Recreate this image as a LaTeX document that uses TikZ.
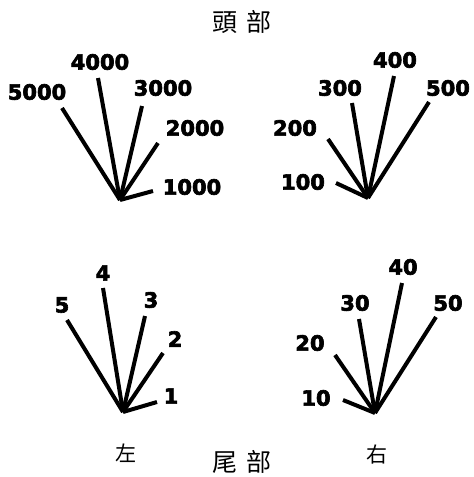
\documentclass[tikz,border=0pt]{standalone}
\usepackage{fontspec}
\setmainfont{DejaVu Sans}
\newfontfamily\heavy[FakeBold=3]{DejaVu Sans Bold}
\newfontfamily\cjk{Noto Sans CJK TC}
\begin{document}
\begin{tikzpicture}[x=1pt,y=-1pt,
  ray/.style={line width=4pt, line cap=butt},
  num/.style={font=\heavy\fontsize{21}{21}\selectfont, inner sep=0pt},
  zh/.style={font=\cjk\fontsize{25}{25}\selectfont, inner sep=0pt},
  zhs/.style={font=\cjk\fontsize{21}{21}\selectfont, inner sep=0pt}]
\useasboundingbox (0,0) rectangle (474,477);
\fill[white] (0,0) rectangle (474,477);
% titles
\node[zh] (head) at (242,22) {頭\hspace{9pt}部};
\node[zh] (tail) at (242,462) {尾\hspace{9pt}部};
\node[zhs] (left) at (126,453) {左};
\node[zhs] (right) at (377,455) {右};
% top-left group
\coordinate (v1) at (120,200);
\coordinate (e5000) at (62,108);
\coordinate (e4000) at (98,78);
\coordinate (e3000) at (142,106);
\coordinate (e2000) at (158,143);
\coordinate (e1000) at (153,191);
\foreach \n in {5000,4000,3000,2000,1000} \draw[ray] (v1) -- (e\n);
\node[num] (l5000) at (37,92) {5000};
\node[num] (l4000) at (100,62) {4000};
\node[num] (l3000) at (163,88) {3000};
\node[num] (l2000) at (195,128) {2000};
\node[num] (l1000) at (192,187) {1000};
% top-right group
\coordinate (v2) at (368,198);
\coordinate (e100) at (336,183);
\coordinate (e200) at (328,139);
\coordinate (e300) at (352,103);
\coordinate (e400) at (394,76);
\coordinate (e500) at (429,102);
\foreach \n in {100,200,300,400,500} \draw[ray] (v2) -- (e\n);
\node[num] (l100) at (303,182) {100};
\node[num] (l200) at (295,128) {200};
\node[num] (l300) at (340,88) {300};
\node[num] (l400) at (395,60) {400};
\node[num] (l500) at (448,88) {500};
% bottom-left group
\coordinate (v3) at (123,412);
\coordinate (e5) at (67,320);
\coordinate (e4) at (103,288);
\coordinate (e3) at (145,316);
\coordinate (e2) at (163,353);
\coordinate (e1) at (157,402);
\foreach \n in {5,4,3,2,1} \draw[ray] (v3) -- (e\n);
\node[num] (l5) at (62,305) {5};
\node[num] (l4) at (103,273) {4};
\node[num] (l3) at (151,300) {3};
\node[num] (l2) at (175,339) {2};
\node[num] (l1) at (171,396) {1};
% bottom-right group
\coordinate (v4) at (375,413);
\coordinate (e10) at (343,400);
\coordinate (e20) at (335,355);
\coordinate (e30) at (359,319);
\coordinate (e40) at (402,283);
\coordinate (e50) at (436,317);
\foreach \n in {10,20,30,40,50} \draw[ray] (v4) -- (e\n);
\node[num] (l10) at (316,398) {10};
\node[num] (l20) at (310,343) {20};
\node[num] (l30) at (355,303) {30};
\node[num] (l40) at (403,267) {40};
\node[num] (l50) at (448,303) {50};
\end{tikzpicture}
\end{document}
